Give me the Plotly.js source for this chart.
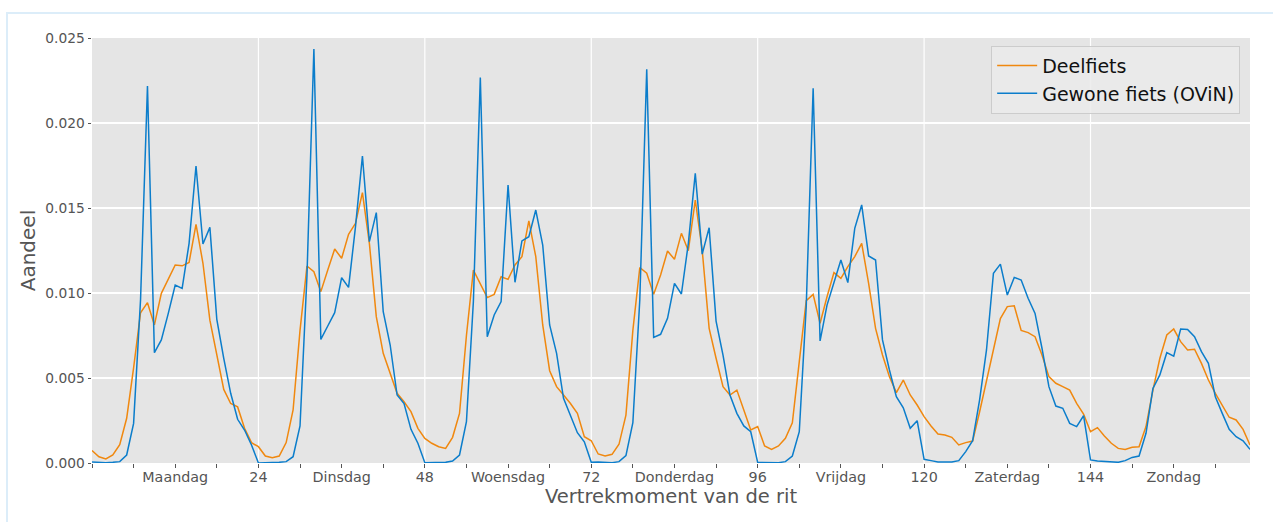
<!DOCTYPE html>
<html>
<head>
<meta charset="utf-8">
<script src="https://cdn.plot.ly/plotly-3.0.1.min.js"></script>
<style>
html,body{margin:0;padding:0;background:#fff;}
#frame{position:absolute;left:6px;top:12px;width:1300px;height:600px;border-left:2px solid #dcedf9;border-top:2px solid #dcedf9;}
#chart{position:absolute;left:0;top:0;width:1273px;height:522px;}
</style>
</head>
<body>
<div id="frame"></div>
<div id="chart"></div>
<script>
// hours of the week 0..167
const hours = Array.from({length: 168}, (_, i) => i);

// Deelfiets (values x 0.001)
const deelfiets = [
  0.73, 0.37, 0.24, 0.47, 1.08, 2.63, 5.6, 8.84, 9.43, 8.12, 9.98, 10.8, 11.65, 11.6, 11.8, 14.04, 11.75, 8.4, 6.25, 4.33, 3.5, 3.3, 2.04, 1.2,
  0.96, 0.41, 0.31, 0.41, 1.2, 3.12, 7.8, 11.59, 11.25, 10.08, 11.35, 12.59, 12.04, 13.45, 14.1, 15.9, 12.92, 8.61, 6.45, 5.27, 4.1, 3.6, 3.02, 2.04,
  1.45, 1.16, 0.96, 0.86, 1.51, 2.92, 7.5, 11.35, 10.57, 9.73, 9.92, 10.96, 10.8, 11.65, 12.14, 14.24, 12.14, 8.12, 5.43, 4.49, 4.0, 3.5, 2.92, 1.55,
  1.31, 0.53, 0.41, 0.51, 1.1, 2.82, 7.8, 11.5, 11.16, 9.92, 11.06, 12.47, 11.98, 13.51, 12.49, 15.47, 12.53, 7.92, 6.16, 4.49, 4.0, 4.29, 3.12, 1.94,
  2.14, 1.0, 0.8, 1.0, 1.45, 2.37, 5.96, 9.55, 9.92, 8.22, 9.78, 11.2, 10.86, 11.55, 12.14, 12.92, 10.57, 7.92, 6.35, 5.08, 4.14, 4.88, 4.0, 3.41,
  2.73, 2.18, 1.71, 1.65, 1.51, 1.06, 1.2, 1.29, 3.0, 4.9, 6.8, 8.5, 9.2, 9.25, 7.8, 7.67, 7.43, 6.35, 5.08, 4.69, 4.49, 4.29, 3.51, 2.88,
  1.84, 2.08, 1.59, 1.16, 0.86, 0.8, 0.92, 0.96, 2.14, 4.29, 6.16, 7.53, 7.88, 7.14, 6.65, 6.69, 5.86, 4.88, 4.1, 3.41, 2.69, 2.53, 1.98, 1.06
];

// Gewone fiets (OViN) (values x 0.001)
const gewoneFiets = [
  0.06, 0.02, 0.02, 0.04, 0.08, 0.47, 2.33, 9.6, 22.18, 6.49, 7.24, 8.8, 10.47, 10.27, 12.92, 17.47, 12.88, 13.86, 8.45, 6.16, 4.1, 2.57, 1.94, 1.06,
  0.0, 0.02, 0.02, 0.04, 0.08, 0.37, 2.18, 11.0, 24.35, 7.27, 8.06, 8.84, 10.9, 10.33, 13.9, 18.06, 13.02, 14.73, 8.9, 6.94, 4.0, 3.5, 1.98, 1.16,
  0.02, 0.02, 0.02, 0.04, 0.12, 0.47, 2.43, 9.5, 22.67, 7.43, 8.71, 9.49, 16.35, 10.63, 13.06, 13.31, 14.88, 12.82, 8.12, 6.45, 3.8, 2.73, 1.78, 1.25,
  0.04, 0.06, 0.02, 0.02, 0.08, 0.43, 2.37, 9.6, 23.16, 7.39, 7.57, 8.51, 10.57, 9.94, 12.92, 17.04, 12.29, 13.84, 8.35, 6.35, 4.0, 2.92, 2.18, 1.84,
  0.04, 0.04, 0.02, 0.02, 0.08, 0.41, 1.84, 9.2, 22.04, 7.18, 9.29, 10.57, 11.94, 10.61, 13.8, 15.18, 12.18, 11.94, 7.24, 5.47, 3.9, 3.25, 2.04, 2.49,
  0.22, 0.14, 0.06, 0.06, 0.06, 0.14, 0.67, 1.31, 3.7, 6.65, 11.16, 11.7, 9.88, 10.92, 10.76, 9.69, 8.8, 6.75, 4.49, 3.35, 3.22, 2.33, 2.14, 2.78,
  0.18, 0.12, 0.1, 0.08, 0.04, 0.14, 0.33, 0.41, 1.75, 4.39, 5.18, 6.49, 6.29, 7.88, 7.86, 7.43, 6.55, 5.86, 3.9, 2.92, 1.98, 1.55, 1.31, 0.8
];

const dayNames = ["Maandag", "Dinsdag", "Woensdag", "Donderdag", "Vrijdag", "Zaterdag", "Zondag"];
const tickStep = 6;
const gridHours = [24, 48, 72, 96, 120, 144];
const yTicks = [0, 0.005, 0.01, 0.015, 0.02, 0.025];

const scale = v => v / 1000;

const tickVals = [];
const tickText = [];
for (let h = 0; h <= 168; h += tickStep) {
  tickVals.push(h);
  if (h % 24 === 12) tickText.push(dayNames[(h - 12) / 24]);
  else if (h % 24 === 0 && h > 0) tickText.push(String(h));
  else tickText.push("");
}

const traces = [
  {x: hours, y: deelfiets.map(scale), type: "scatter", mode: "lines", name: "Deelfiets",
   line: {color: "#F0880F", width: 1.5}},
  {x: hours, y: gewoneFiets.map(scale), type: "scatter", mode: "lines", name: "Gewone fiets (OViN)",
   line: {color: "#0B7DCB", width: 1.5}}
];

const shapes = gridHours.map(h => ({
  type: "line", xref: "x", yref: "paper", x0: h, x1: h, y0: 0, y1: 1,
  line: {color: "#ffffff", width: 1.2}, layer: "below"
}));

const layout = {
  width: 1273, height: 522,
  margin: {l: 92, r: 23, t: 38, b: 59},
  paper_bgcolor: "rgba(0,0,0,0)",
  plot_bgcolor: "#E5E5E5",
  font: {family: "DejaVu Sans, sans-serif", color: "#555555", size: 14},
  showlegend: true,
  legend: {
    x: 0.9915, y: 0.982, xanchor: "right", yanchor: "top",
    bgcolor: "rgba(235,235,235,0.85)", bordercolor: "#cccccc", borderwidth: 1,
    font: {size: 19, color: "#111111", family: "DejaVu Sans, sans-serif"},
    itemwidth: 40, tracegroupgap: 0
  },
  xaxis: {
    range: [0, 167], tickmode: "array", tickvals: tickVals, ticktext: tickText,
    showgrid: false, zeroline: false, showline: false,
    ticks: "outside", ticklen: 3.5, tickwidth: 1, tickcolor: "#555555",
    tickfont: {size: 14.3, color: "#555555"},
    ticklabelstandoff: -3,
    title: {text: "Vertrekmoment van de rit", font: {size: 19.5, color: "#555555"}, standoff: 2}
  },
  yaxis: {
    range: [0, 0.025], tickmode: "array", tickvals: yTicks,
    ticktext: yTicks.map(v => v.toFixed(3)),
    showgrid: true, gridcolor: "#ffffff", gridwidth: 1.2,
    zeroline: false, showline: false,
    ticks: "outside", ticklen: 3.5, tickwidth: 1, tickcolor: "#555555",
    tickfont: {size: 13.8, color: "#555555"},
    title: {text: "Aandeel", font: {size: 20, color: "#555555"}, standoff: 4}
  },
  shapes: shapes
};

Plotly.newPlot("chart", traces, layout, {displayModeBar: false, staticPlot: true});
</script>
</body>
</html>
